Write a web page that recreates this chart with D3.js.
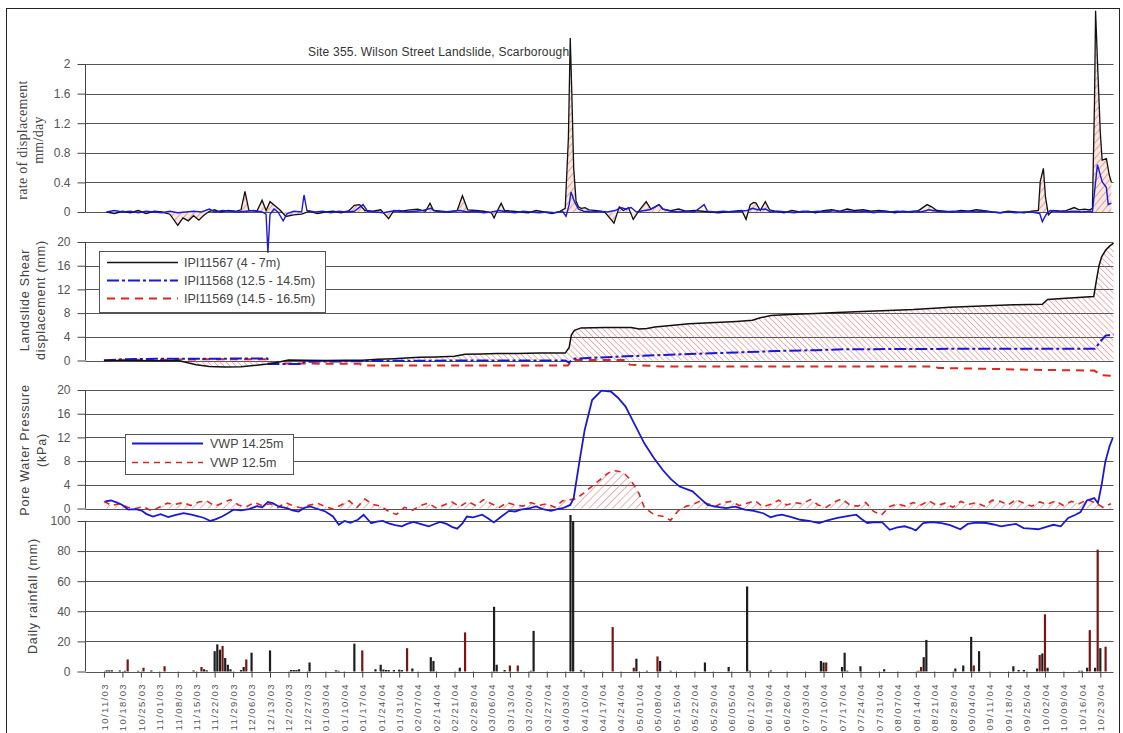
<!DOCTYPE html>
<html>
<head>
<meta charset="utf-8">
<script src="https://cdn.jsdelivr.net/npm/d3@7"></script>
<style>
  body { margin: 0; background: #fff; }
  svg text { font-family: "Liberation Sans", Arial, sans-serif; }
</style>
</head>
<body>
<svg id="chart" width="1123" height="733"></svg>
<script>
// ---- data (day offsets from 10/11/03) ----
var startDate = Date.UTC(2003, 9, 11);

// rate of displacement, mm/day
var rateBlack = [[1,0],[4,-0.02],[7,0.01],[10,-0.01],[13,0.02],[16,-0.02],[19,0.01],[22,0],[25,-0.03],[28,-0.18],[30,-0.08],[32,-0.12],[34,-0.05],[36,-0.11],[38,-0.04],[40,0.01],[42,0.03],[44,0],[47,0.02],[50,0.01],[52,0.03],[53.5,0.28],[55,0.02],[58,0.01],[60,0.16],[61.5,0.02],[63,0.14],[65,0.08],[67,0.02],[69,-0.06],[72,-0.04],[75,-0.03],[78,0.01],[81,-0.02],[84,0],[87,0.01],[90,-0.01],[93,0.02],[95,0.09],[97,0.1],[99,0.02],[102,0.01],[105,0.03],[108,-0.09],[110,0.02],[113,0.01],[116,0.03],[119,0.04],[122,0.01],[123.7,0.12],[125,0.02],[128,0.01],[131,0],[134,0.02],[136,0.22],[138,0.03],[141,0.02],[144,0.01],[147,-0.01],[148,-0.08],[149,0],[150.7,0.12],[152,0.02],[155,0.01],[158,0],[161,-0.01],[164,0.02],[167,0],[170,-0.02],[173,0.01],[175,0.05],[176.2,1.0],[176.9,2.35],[177.5,1.6],[178.2,0.6],[179.1,0.15],[180,0.07],[181,0.05],[182.5,0.06],[184,0.03],[187,0.02],[190,0],[193.5,-0.15],[195.5,0.07],[197,0.02],[199,0.06],[200.8,-0.1],[203,0.02],[205.7,0.14],[207.5,0.04],[210.6,0.1],[212,0.04],[215,0.02],[218,0.04],[221,0.01],[224,0.02],[227,0.01],[230,0],[233,-0.01],[236,0],[239,0.01],[242,0.02],[243.6,-0.1],[245.2,0.1],[246.5,0.13],[247.4,0.12],[249,0.02],[250.9,0.14],[252.5,0.03],[255,0.01],[258,-0.01],[261,0.02],[264,0],[267,0.01],[270,-0.01],[273,0.02],[276,0.03],[279,0.01],[282,0.04],[285,0.02],[288,0.03],[291,0.01],[294,0.02],[297,0.01],[300,-0.01],[303,0.01],[306,0],[309,0.02],[312.3,0.1],[314,0.07],[316,0.02],[319,0.01],[322,0],[325,0.02],[328,0.01],[331,0.03],[334,0.02],[337,0],[340,-0.01],[343,0.01],[346,0],[349,-0.01],[352,0.01],[354.5,0.02],[355.2,0.41],[356.4,0.59],[357.2,0.2],[358.3,-0.04],[360,0.02],[363,0.01],[365,0.02],[368.1,0.06],[370,0.03],[372,0.04],[374,0.03],[375,0.05],[375.8,1.5],[376.2,2.72],[376.9,2.05],[378,1.07],[378.7,0.7],[380.3,0.72],[381.4,0.5],[382.2,0.4]];
var rateBlue = [[1,0],[4,0.02],[7,0],[10,0.01],[13,-0.01],[16,0.01],[19,0],[22,-0.01],[25,0.01],[28,-0.01],[31,0],[34,0.01],[37,0],[40,0.04],[42,0],[45,0.02],[48,0.01],[51,0],[54,0.01],[57,0.02],[60,0],[61.5,-0.03],[62.2,-0.55],[63,-0.03],[64.5,0.04],[66,0],[68,-0.12],[69.5,-0.02],[72,0.01],[75,0],[75.9,0.23],[77,0.02],[80,0],[83,0.01],[86,-0.01],[89,0.01],[92,0],[95,0.01],[98.3,0.1],[100,0.01],[103,0],[106,-0.01],[109,0.01],[112,0.02],[115,0],[118,0.01],[121,0.02],[124,0.05],[126,0.01],[129,0],[132,0.01],[135,0.02],[138,0],[141,0.01],[144,-0.01],[147,0],[150,0.02],[153,0],[156,-0.01],[159,0.01],[162,0],[165,-0.01],[168,0],[171,-0.01],[174,0.01],[175.3,-0.06],[176.5,0.1],[177.2,0.27],[178.5,0.14],[180,0.04],[182,0.01],[185,0],[188,0.01],[191,0],[194,0.02],[196,0.06],[198,0.04],[200,0.06],[202,0],[205,0.02],[207,0.03],[210.6,0.1],[212,0.04],[215,0.01],[218,0],[221,0.01],[224,0],[227.7,0.1],[229,0.01],[232,0],[235,0.01],[238,0],[241,0.01],[244,0.02],[246,0.05],[248,0.03],[251,0.04],[253,0],[256,0.01],[259,0],[262,-0.01],[265,0.01],[268,0],[271,0.01],[274,0],[277,0.02],[280,0],[283,0.01],[286,0],[289,0.01],[292,-0.01],[295,0.01],[298,0],[301,0.01],[304,0],[307,0.01],[310,0],[313,0.03],[316,0.01],[319,0],[322,0.01],[325,0],[328,0.01],[331,0],[334,0.01],[337,0],[340,-0.01],[343,0],[346,-0.01],[349,0],[352,0],[355,-0.02],[356,-0.13],[357.5,-0.03],[359,0.02],[362,0.01],[365,0],[368,0.01],[371,0],[374,0.01],[375,0],[376.9,0.64],[378.7,0.41],[380.3,0.33],[381,0.1],[382.2,0.12]];

// landslide shear displacement, mm
var shearBlack = [[0,0],[10,0],[20,-0.05],[28,0],[31,-0.3],[35,-0.7],[40,-1.0],[46,-1.1],[52,-1.05],[58,-0.8],[62,-0.6],[66,-0.3],[70,0.1],[76,0.05],[84,0],[92,0.05],[98,0.05],[104,0.2],[110,0.3],[116,0.45],[120,0.55],[126,0.6],[133,0.7],[135,0.9],[137,1.05],[143,1.1],[149,1.2],[157,1.2],[165,1.25],[175,1.25],[176.5,2.2],[177.3,4.3],[178.5,5.1],[181,5.5],[190,5.55],[200,5.55],[203,5.3],[206,5.4],[209,5.65],[215,5.9],[222,6.2],[232,6.4],[240,6.6],[246,6.8],[249,7.2],[253,7.6],[262,7.8],[270,7.95],[278,8.1],[290,8.3],[300,8.5],[307,8.6],[315,8.8],[321,9.0],[333,9.2],[345,9.4],[356,9.5],[358,10.3],[365,10.5],[375.5,10.8],[376.5,13.5],[377.5,16],[378.5,17.5],[380,18.6],[381.5,19.3],[383,19.8]];
var shearBlue = [[0,0],[7,0.2],[20,0.3],[40,0.3],[62,0.35],[62.5,-0.6],[75,-0.6],[76,-0.2],[90,-0.15],[110,-0.05],[140,0],[175,0],[176.5,-0.35],[178,0.3],[185,0.45],[198,0.7],[210,0.9],[222,1.1],[240,1.35],[255,1.6],[270,1.75],[281,1.9],[310,1.95],[340,2.0],[376,2.0],[378,3.2],[380,4.2],[383,4.4]];
var shearRed = [[0,0],[10,0.1],[40,0.2],[62,0.2],[63,-0.5],[97,-0.55],[98,-0.85],[176,-0.85],[177.5,0],[178.5,0.1],[198,0.1],[199.5,-0.7],[211,-1.0],[315,-1.0],[316.5,-1.25],[357,-1.6],[375.7,-1.7],[378.6,-2.5],[383,-2.6]];

// pore water pressure, kPa
var vwp1425 = [[0.5,1.2],[2.7,1.35],[5,1.0],[7,0.6],[9.2,-0.2],[12,-0.1],[14.3,-0.35],[16,-0.9],[18.6,-1.35],[21.5,-0.95],[24.4,-1.45],[27,-1.1],[30.2,-0.8],[33.2,-1.05],[36.1,-1.35],[38,-1.6],[40.4,-2.1],[42.5,-1.8],[44.8,-1.35],[47,-0.8],[49.1,-0.2],[52,-0.3],[55,-0.1],[58,0.4],[60,0.2],[62.2,1.1],[64,0.9],[66.5,0.3],[69.4,0.05],[71.5,-0.3],[73.8,-0.5],[76,0.1],[78.2,0.35],[80.5,0.0],[84,-0.5],[86.9,-1.35],[89.1,-2.75],[91.2,-2.1],[93.5,-2.4],[96.3,-1.9],[98.5,-1.05],[101.4,-2.5],[103.5,-2.2],[105.8,-2.1],[108,-2.5],[110.5,-2.8],[113,-3.0],[115,-2.6],[117.4,-2.25],[120,-2.6],[123.2,-3.0],[125,-2.7],[127.5,-2.25],[130,-2.6],[132,-3.1],[134,-3.4],[136,-2.5],[137.7,-1.35],[140,-1.5],[143.5,-1.05],[145.5,-1.6],[147.9,-2.35],[150.8,-1.35],[153.7,-0.4],[156,-0.5],[158.1,-0.2],[161,0.0],[163.9,0.35],[166.5,-0.1],[169.6,-0.4],[172,-0.1],[174,0.05],[176.9,0.6],[178.2,1.75],[180.3,7.65],[182.4,13.3],[185.2,18.3],[188.7,19.9],[190.5,19.8],[192.3,19.75],[195,18.7],[197.9,17.2],[201,14.5],[205,11.0],[208.5,8.6],[212,6.5],[215,5.0],[218.4,3.7],[223.3,2.9],[226,1.8],[229,0.6],[232,0.3],[236,0.05],[239.5,0.3],[243.1,-0.2],[246.5,-0.4],[250.1,-0.8],[252.9,-1.5],[255,-1.2],[257.2,-1.05],[260.5,-1.4],[264.2,-1.9],[267.5,-2.1],[271.3,-2.45],[274.5,-2.0],[278.3,-1.6],[282,-1.3],[285.4,-1.05],[287.5,-1.8],[289.6,-2.45],[292.5,-2.3],[295.3,-2.35],[298.1,-3.6],[301,-3.2],[303.8,-3.0],[306,-3.3],[308,-3.7],[310.8,-2.45],[314,-2.3],[317.8,-2.45],[321,-2.8],[324.9,-3.5],[327.7,-2.6],[331,-2.4],[334.8,-2.45],[337.5,-2.7],[340.4,-3.0],[343,-2.8],[346,-2.6],[348.9,-3.3],[351.5,-3.4],[354.5,-3.5],[357.5,-3.1],[360.2,-2.75],[363,-3.0],[365.8,-1.6],[368.6,-1.05],[370.5,-0.6],[372.9,1.35],[375.7,1.75],[377.1,0.9],[378.5,4.0],[379.9,7.9],[381.5,10.5],[382.7,11.9]];
var vwp125 = [[0,1.2],[3,0.5],[6,0.8],[9,0.2],[12,0.0],[15,0.3],[18,-0.4],[21,0.2],[24,0.9],[27,0.7],[30,1.0],[33,0.5],[36,1.1],[39,1.3],[42,0.4],[45,0.9],[48,1.5],[51,0.6],[54,0.3],[57,1.0],[60,0.5],[63,0.8],[66,0.2],[69,1.0],[72,0.4],[75,0.1],[78,0.6],[81,0.9],[84,0.3],[87,-0.1],[90,0.6],[93,1.3],[96,0.2],[99,1.6],[102,0.7],[105,0.4],[108,-0.5],[111,-1.0],[114,0.2],[117,-0.3],[120,0.5],[123,0.9],[126,0.1],[129,0.6],[132,1.1],[135,0.3],[138,1.2],[141,0.5],[144,1.5],[147,0.8],[150,0.2],[153,1.0],[156,0.6],[159,0.4],[162,1.0],[165,0.5],[168,0.8],[171,0.2],[174,1.3],[177,1.5],[179,1.6],[182,2.6],[185,3.7],[188,4.8],[191,5.9],[193,6.4],[195,6.3],[197,6.1],[199,5.2],[201,4.0],[203,2.5],[205,0.2],[207,-0.5],[209,-1.1],[212,-1.3],[215,-2.0],[218,-0.3],[221,0.4],[223,0.6],[226,1.2],[229,0.8],[232,0.4],[235,1.0],[238,1.2],[241,0.5],[244,0.9],[247,1.3],[250,0.3],[253,0.7],[256,1.4],[259,0.6],[262,1.0],[265,0.8],[268,1.5],[271,0.6],[274,0.2],[277,1.1],[280,1.6],[283,0.6],[286,0.4],[289,1.0],[292,-0.5],[295,-1.1],[298,0.3],[301,0.8],[304,0.4],[307,1.0],[310,0.6],[313,1.3],[316,0.5],[319,0.9],[322,0.2],[325,1.2],[328,0.7],[331,1.0],[334,0.4],[337,1.4],[340,1.2],[343,0.6],[346,1.5],[349,0.9],[352,0.4],[355,1.1],[358,0.7],[361,1.3],[364,0.5],[367,1.2],[370,0.8],[373,1.5],[376,1.0],[379,0.2],[382,0.8]];

// daily rainfall, mm
var rainBlack = [[1,0.8],[2,0.8],[3,0.8],[6,0.7],[8,0.5],[13,0.5],[18,0.7],[34,0.7],[38,1.5],[39,0.8],[42,13.5],[43,18],[44,14.5],[46,9],[47,4.5],[48,1.5],[52,1],[53,3],[56,12.5],[63,14],[71,1],[72,1],[73,1],[74,1.5],[78,6],[88,0.8],[89,0.5],[95,18.5],[103,1.5],[105,4.5],[106,1.3],[107,1],[108,1],[110,1],[112,1.2],[113,1],[117,2],[124,9.5],[125,7],[135,2.5],[148,43],[149,4.5],[152,1],[162,0.5],[163,27],[177,104],[178,100],[181,0.8],[202,8.5],[206,0.5],[211,7],[215,0.5],[228,6],[237,3],[244,56.5],[245,0.5],[253,0.7],[272,7],[273,6],[280,3],[281,12.5],[282,0.5],[287,3.5],[296,1.5],[309,0.5],[311,9.5],[312,21],[323,2],[326,4],[329,23],[332,13.5],[345,3.5],[347,1],[349,1],[354,2],[356,12],[358,2.5],[370,0.5],[371,0.5],[373,2.5],[376,2.5],[378,15.5]];
var rainRed = [[9,8],[15,2.5],[23,3.5],[37,3],[45,17],[54,8],[98,14],[115,15.5],[137,26],[154,4],[157,4],[193,29.5],[201,2.5],[210,10],[274,6],[310,3],[330,4],[355,11],[357,38],[374,27.5],[377,81],[380,16.5]];

// tick labels
var rateTicks = [0, 0.4, 0.8, 1.2, 1.6, 2];
var shearTicks = [0, 4, 8, 12, 16, 20];
var pwpTicks = [0, 4, 8, 12, 16, 20];
var rainTicks = [0, 20, 40, 60, 80, 100];

var titleText = "Site 355. Wilson Street Landslide, Scarborough";
var shearNames = ["IPI11567 (4 - 7m)", "IPI11568 (12.5 - 14.5m)", "IPI11569 (14.5 - 16.5m)"];
var pwpNames = ["VWP 14.25m", "VWP 12.5m"];

// ---- scales ----
var svg = d3.select("#chart");
var left = 85.5, right = 1113.5;

var x = d3.scaleUtc()
  .domain([new Date(Date.UTC(2003, 9, 4)), new Date(Date.UTC(2004, 9, 28))])
  .range([left, right]);
function dd(d) { return new Date(startDate + d * 864e5); }

var yRate = d3.scaleLinear().domain([0, 2]).range([212, 64]);
var yShear = d3.scaleLinear().domain([0, 20]).range([360.5, 242]);
var yPwp = d3.scaleLinear().domain([0, 20]).range([508.5, 390]);
var yRain = d3.scaleLinear().domain([0, 100]).range([671.5, 521]);

// ---- hatch patterns ----
var defs = svg.append("defs");
function hatch(id, angle, gap, color, bg, w) {
  var p = defs.append("pattern")
    .attr("id", id)
    .attr("patternUnits", "userSpaceOnUse")
    .attr("width", gap).attr("height", gap)
    .attr("patternTransform", "rotate(" + angle + ")");
  if (bg) p.append("rect").attr("width", gap).attr("height", gap).attr("fill", bg);
  p.append("line").attr("x1", 0).attr("y1", 0).attr("x2", 0).attr("y2", gap)
    .attr("stroke", color).attr("stroke-width", w);
}
hatch("hRate", 40, 5, "#b7584a", "#f8e6e1", 0.9);
hatch("hShear", -45, 4.2, "#e25555", null, 0.9);
hatch("hPwp", 45, 5.5, "#e05050", null, 0.9);

// outer frame
svg.append("rect").attr("x", 6.5).attr("y", 8.5).attr("width", 1113).attr("height", 740)
  .attr("fill", "none").attr("stroke", "#222").attr("stroke-width", 1);

// ---- helpers ----
function grid(y, ticks) {
  svg.append("g").selectAll("line").data(ticks).join("line")
    .attr("x1", left).attr("x2", right)
    .attr("y1", d => Math.round(y(d)) + 0.5).attr("y2", d => Math.round(y(d)) + 0.5)
    .attr("stroke", "#555").attr("stroke-width", 1);
}
function yAxis(y, ticks, minor) {
  var g = svg.append("g").attr("transform", "translate(" + left + ",0)");
  g.call(d3.axisLeft(y).tickValues(minor).tickSize(5).tickSizeOuter(0).tickFormat(""));
  g.call(d3.axisLeft(y).tickValues(ticks).tickSize(8).tickSizeOuter(0).tickPadding(7).tickFormat(d => String(d)));
  g.selectAll(".domain").remove();
  g.selectAll("line").attr("stroke", "#444");
  g.selectAll("text").attr("font-size", "12px").attr("fill", "#555")
    .attr("font-family", "Liberation Sans, Arial, sans-serif");
  g.append("line").attr("x1", 0).attr("x2", 0)
    .attr("y1", y.range()[1]).attr("y2", y.range()[0]).attr("stroke", "#444");
}
function yTitle(lines, xs, cy, font, size, spacing) {
  lines.forEach(function(t, i) {
    svg.append("text")
      .attr("transform", "translate(" + xs[i] + "," + cy + ") rotate(-90)")
      .attr("text-anchor", "middle").attr("dy", "0.35em")
      .attr("font-size", size).attr("letter-spacing", spacing)
      .attr("fill", "#444").style("font-family", font)
      .text(t);
  });
}
function line(y, data) {
  return d3.line().x(d => x(dd(d[0]))).y(d => y(d[1]))(data);
}
function area(y, data, posOnly) {
  return d3.area().x(d => x(dd(d[0]))).y0(y(0))
    .y1(d => y(posOnly ? Math.max(0, d[1]) : d[1]))(data);
}

// ---- panel 1: rate of displacement ----
grid(yRate, rateTicks);
yAxis(yRate, rateTicks, d3.range(0, 2.01, 0.08));
svg.append("path").attr("d", area(yRate, rateBlack)).attr("fill", "url(#hRate)");
yTitle(["rate of displacement", "mm/day"], [22, 38], 140, "Liberation Serif, Times New Roman, serif", "14px", "0.3px");
svg.append("text").attr("x", 308).attr("y", 56).attr("font-size", "12px")
  .attr("letter-spacing", "0.2px").attr("fill", "#333")
  .text(titleText);

// ---- panel 2: shear displacement ----
grid(yShear, shearTicks);
yAxis(yShear, shearTicks, d3.range(0, 21, 2));
svg.append("path").attr("d", area(yShear, shearBlack)).attr("fill", "url(#hShear)");
yTitle(["Landslide Shear", "displacement (mm)"], [25, 41], 300, "Liberation Sans, Arial, sans-serif", "12.5px", "0.8px");

// ---- panel 3: pore water pressure ----
grid(yPwp, pwpTicks);
yAxis(yPwp, pwpTicks, d3.range(0, 21, 2));
svg.append("path").attr("d", area(yPwp, vwp125, true)).attr("fill", "url(#hPwp)");
yTitle(["Pore Water Pressure", "(kPa)"], [25, 42], 450, "Liberation Sans, Arial, sans-serif", "12.5px", "0.8px");

// ---- panel 4: rainfall ----
grid(yRain, rainTicks);
yAxis(yRain, rainTicks, d3.range(0, 101, 10));
yTitle(["Daily rainfall (mm)"], [33], 596, "Liberation Sans, Arial, sans-serif", "12.5px", "0.8px");

svg.append("g").selectAll("rect").data(rainBlack).join("rect")
  .attr("x", d => x(dd(d[0])) - 1.1).attr("width", 2.2)
  .attr("y", d => yRain(d[1])).attr("height", d => yRain(0) - yRain(d[1]))
  .attr("fill", "#1e1e1e");
svg.append("g").selectAll("rect").data(rainRed).join("rect")
  .attr("x", d => x(dd(d[0])) - 1.1).attr("width", 2.2)
  .attr("y", d => yRain(d[1])).attr("height", d => yRain(0) - yRain(d[1]))
  .attr("fill", "#7c1414");

var weeks = d3.utcSaturday.range(new Date(Date.UTC(2003, 9, 11)), new Date(Date.UTC(2004, 9, 24)));
var xg = svg.append("g").attr("transform", "translate(0,671.5)")
  .call(d3.axisBottom(x).tickValues(weeks).tickSize(6).tickFormat(d3.utcFormat("%m/%d/%y")));
xg.select(".domain").remove();
xg.selectAll("line").attr("stroke", "#444");
xg.selectAll("text")
  .attr("transform", "rotate(-90)")
  .attr("x", -11.5).attr("y", 0).attr("dy", "0.35em")
  .attr("text-anchor", "end")
  .attr("font-size", "9.5px").attr("letter-spacing", "1.4px").attr("fill", "#555")
  .attr("font-family", "Liberation Sans, Arial, sans-serif");

// ---- series lines ----
svg.append("path").attr("d", line(yShear, shearRed)).attr("fill", "none")
  .attr("stroke", "#e4241e").attr("stroke-width", 2).attr("stroke-dasharray", "8,6");
svg.append("path").attr("d", line(yShear, shearBlue)).attr("fill", "none")
  .attr("stroke", "#1717e0").attr("stroke-width", 2).attr("stroke-dasharray", "12,3,3,3");
svg.append("path").attr("d", line(yShear, shearBlack)).attr("fill", "none")
  .attr("stroke", "#111").attr("stroke-width", 1.5);

svg.append("path").attr("d", line(yPwp, vwp125)).attr("fill", "none")
  .attr("stroke", "#e0241e").attr("stroke-width", 1.6).attr("stroke-dasharray", "6,5");
svg.append("path").attr("d", line(yPwp, vwp1425)).attr("fill", "none")
  .attr("stroke", "#1a1ad6").attr("stroke-width", 1.8);

// ---- legends ----
var lg2 = svg.append("g");
lg2.append("rect").attr("x", 99.5).attr("y", 251.5).attr("width", 226).attr("height", 61)
  .attr("fill", "#fff").attr("stroke", "#555");
var styles2 = [
  { c: "#111", w: 1.5, dash: null },
  { c: "#1717e0", w: 2, dash: "12,3,3,3" },
  { c: "#e4241e", w: 2, dash: "8,6" }
];
shearNames.forEach(function(n, i) {
  var yy = 262.5 + i * 18;
  lg2.append("line").attr("x1", 107).attr("x2", 178).attr("y1", yy).attr("y2", yy)
    .attr("stroke", styles2[i].c).attr("stroke-width", styles2[i].w)
    .attr("stroke-dasharray", styles2[i].dash);
  lg2.append("text").attr("x", 184).attr("y", yy).attr("dy", "0.35em")
    .attr("font-size", "12.5px").attr("fill", "#444").text(n);
});

var lg3 = svg.append("g");
lg3.append("rect").attr("x", 125.5).attr("y", 434.5).attr("width", 168).attr("height", 40)
  .attr("fill", "#fff").attr("stroke", "#555");
var styles3 = [
  { c: "#1a1ad6", w: 1.8, dash: null },
  { c: "#e0241e", w: 1.6, dash: "6,5" }
];
pwpNames.forEach(function(n, i) {
  var yy = 443.5 + i * 19;
  lg3.append("line").attr("x1", 132).attr("x2", 203).attr("y1", yy).attr("y2", yy)
    .attr("stroke", styles3[i].c).attr("stroke-width", styles3[i].w)
    .attr("stroke-dasharray", styles3[i].dash);
  lg3.append("text").attr("x", 210).attr("y", yy).attr("dy", "0.35em")
    .attr("font-size", "12.5px").attr("fill", "#444").text(n);
});

// rate lines drawn last (blue spike crosses into panel 2)
svg.append("path").attr("d", line(yRate, rateBlack)).attr("fill", "none")
  .attr("stroke", "#111").attr("stroke-width", 1.3);
svg.append("path").attr("d", line(yRate, rateBlue)).attr("fill", "none")
  .attr("stroke", "#1a1ae0").attr("stroke-width", 1.4);
</script>
</body>
</html>
